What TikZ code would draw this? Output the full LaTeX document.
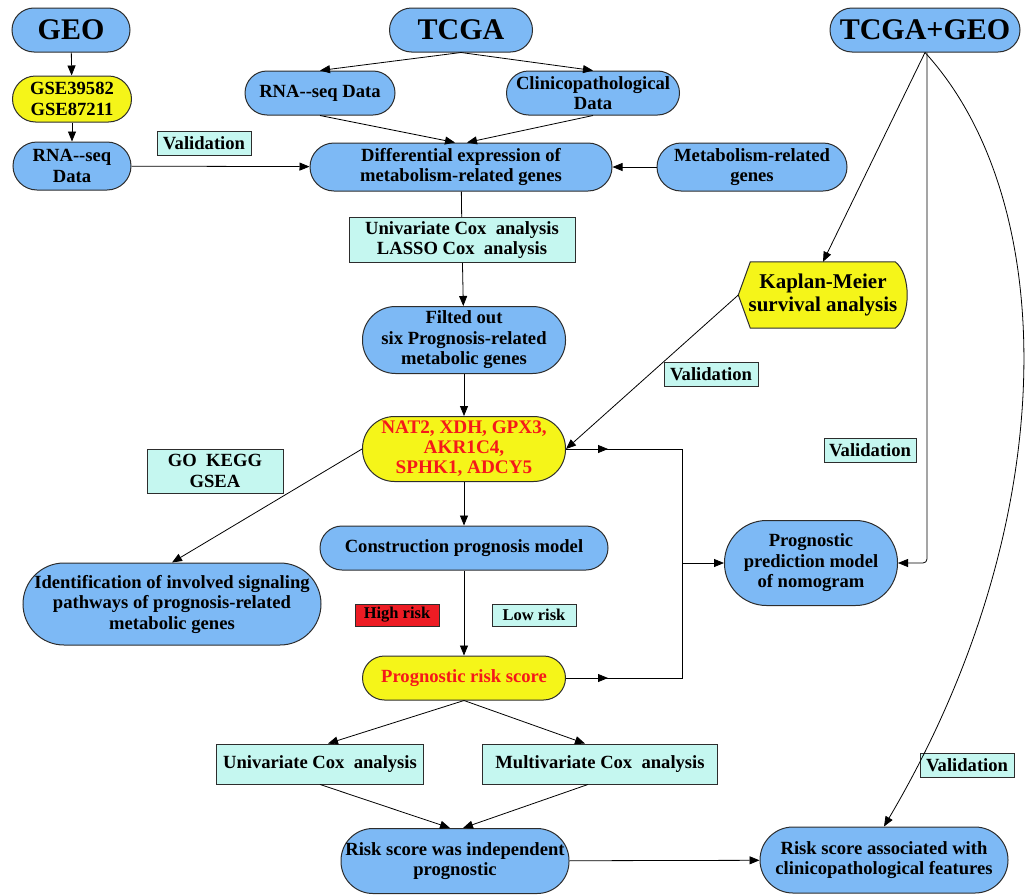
\documentclass[tikz,border=0pt]{standalone}
\usepackage{fontspec}
\setmainfont{Liberation Serif}
\usepackage{tikz}
\usetikzlibrary{arrows.meta, positioning, calc, backgrounds, decorations.markings}
\definecolor{pillblue}{RGB}{125,185,245}
\definecolor{hiyellow}{RGB}{245,245,25}
\definecolor{paleaqua}{RGB}{197,247,240}
\definecolor{riskred}{RGB}{237,28,36}
\definecolor{genered}{RGB}{245,25,25}
\definecolor{edgegray}{RGB}{45,45,45}

\begin{document}
\begin{tikzpicture}[x=1pt, y=-1pt,
  every node/.style={font=\fontsize{18.6}{20.5}\selectfont\bfseries, align=center, inner sep=0pt},
  pill/.style={draw=edgegray, line width=1pt, fill=pillblue, rounded corners=#1},
  pill/.default=22pt,
  gold/.style={pill=#1, fill=hiyellow},
  gold/.default=22pt,
  tag/.style={draw=edgegray, line width=0.9pt, fill=paleaqua, minimum height=24pt},
  small/.style={font=\fontsize{16.5}{18}\selectfont\bfseries},
  large/.style={font=\fontsize{21}{23}\selectfont\bfseries},
  big/.style={font=\fontsize{30}{32}\selectfont\bfseries},
  link/.style={line width=0.8pt},
  arr/.style={link, -{Triangle[length=10pt,width=8pt]}},
  midtip/.style={postaction={decorate}, decoration={markings,
    mark=at position #1 with {\arrow{Triangle[length=10pt,width=8pt]}}}}
]
  \useasboundingbox (0,0) rectangle (1032,894);

  % Data sources
  \node[pill, big, minimum width=118pt, minimum height=44pt] (geo) at (71,30) {GEO};
  \node[pill, big, minimum width=143pt, minimum height=44pt] (tcga) at (461,30) {TCGA};
  \node[pill, big, minimum width=190pt, minimum height=44pt] (both) at (925,30) {TCGA+GEO};

  % Upper row
  \node[gold=23pt, minimum width=119pt, minimum height=46pt] (gse) at (72,99) {GSE39582\\GSE87211};
  \node[pill=24pt, minimum width=118pt, minimum height=48pt] (rnageo) at (72,166) {RNA-{}-seq\\Data};
  \node[pill, minimum width=150pt, minimum height=44pt] (rnatcga) at (320,93) {RNA-{}-seq Data};
  \node[pill, minimum width=173pt, minimum height=44pt] (clin) at (593,93) {Clinicopathological\\Data};
  \node[pill=24pt, minimum width=302pt, minimum height=48pt] (diff) at (461,167) {Differential expression of\\metabolism-related genes};
  \node[pill=24pt, minimum width=190pt, minimum height=48pt] (metab) at (752,167) {Metabolism-related\\genes};
  \node[tag, minimum width=94pt] (val1) at (204,143) {Validation};

  % Gene selection
  \node[tag, minimum width=226pt, minimum height=45pt] (cox) at (462,240) {Univariate Cox\ \ analysis\\LASSO Cox\ \ analysis};
  \node[pill=33pt, minimum width=203pt, minimum height=67pt] (filt) at (464,340) {Filted out\\six Prognosis-related\\metabolic genes};
  \node[gold=32pt, minimum width=203pt, minimum height=65pt, text=genered, font=\fontsize{19.2}{20}\selectfont\bfseries] (genes) at (464,449) {NAT2, XDH, GPX3,\\AKR1C4,\\SPHK1, ADCY5};

  % Kaplan-Meier
  \node[large, minimum width=169pt, minimum height=66pt] (km) at (823,295) {Kaplan-Meier\\survival analysis};
  \begin{scope}[on background layer]
    \filldraw[draw=edgegray, line width=1pt, fill=hiyellow] (km.west) -- ([xshift=12pt]km.north west)
      -- ([xshift=-12.5pt]km.north east) .. controls ([xshift=3.5pt,yshift=-12pt]km.north east) and ([xshift=3.5pt,yshift=12pt]km.south east)
      .. ([xshift=-12.5pt]km.south east) -- ([xshift=12pt]km.south west) -- cycle;
  \end{scope}
  \node[tag, minimum width=94pt] (val2) at (711,374) {Validation};
  \node[tag, minimum width=92pt] (val3) at (870,450) {Validation};

  % Model
  \node[tag, minimum width=136pt, minimum height=44pt] (enrich) at (215,471) {GO\ \ KEGG\\GSEA};
  \node[pill, minimum width=288pt, minimum height=44pt] (model) at (464,548) {Construction prognosis model};
  \node[pill=41pt, minimum width=298pt, minimum height=82pt] (pathway) at (172,604) {Identification of involved signaling\\pathways of prognosis-related\\metabolic genes};
  \node[pill=42pt, minimum width=173pt, minimum height=85pt] (nomo) at (811,563) {Prognostic\\prediction model\\of nomogram};
  \node[tag, small, fill=riskred, minimum width=84pt, minimum height=22pt] (high) at (397,615) {High risk};
  \node[tag, small, minimum width=84pt, minimum height=22pt] (low) at (534,615) {Low risk};
  \node[gold, minimum width=203pt, minimum height=44pt, text=genered] (score) at (464,678) {Prognostic risk score};

  % Lower part
  \node[tag, minimum width=207pt, minimum height=40pt] (unicox) at (320,764) {Univariate Cox\ \ analysis};
  \node[tag, minimum width=235pt, minimum height=40pt] (multicox) at (600,764) {Multivariate Cox\ \ analysis};
  \node[tag, minimum width=94pt] (val4) at (967,765) {Validation};
  \node[pill=32pt, minimum width=228pt, minimum height=65pt] (indep) at (455,861) {Risk score was independent\\prognostic};
  \node[pill=33pt, minimum width=248pt, minimum height=66pt] (assoc) at (884,860) {Risk score associated with\\clinicopathological features};

  % Connectors
  \draw[arr] (geo) -- (gse);
  \draw[arr] (gse) -- (rnageo);
  \draw[arr] (rnageo) -- (diff);
  \draw[arr] (tcga.south) -- (rnatcga.north);
  \draw[arr] (tcga.south) -- (clin.north);
  \draw[arr] (rnatcga.south) -- ([xshift=-6pt]diff.north);
  \draw[arr] (clin.south) -- ([xshift=6pt]diff.north);
  \draw[arr] (metab) -- (diff);
  \draw[link] (diff) -- (cox);
  \draw[arr] (cox) -- (filt);
  \draw[arr] (filt) -- (genes);
  \draw[arr] (genes) -- (model);
  \draw[arr] (model) -- (score);
  \draw[arr] (genes.west) -- (pathway.north);

  \draw[arr] (both.south) -- (km.north);
  \draw[arr] (km.west) -- (genes.east);
  \draw[arr, rounded corners=4pt] ([xshift=2pt]both.south) |- (nomo.east);
  \draw[arr] (both.south) .. controls (1060,200) and (1065,520) .. (assoc.north);

  \coordinate (jmid) at (682,563);
  \draw[link, midtip=42pt] (genes.east) -| (jmid);
  \draw[link, midtip=42pt] (score.east) -| (jmid);
  \draw[arr] (jmid) -- (nomo.west);

  \draw[arr] (score.south) -- ([xshift=8pt]unicox.north);
  \draw[arr] (score.south) -- ([xshift=-15pt]multicox.north);
  \draw[arr] (unicox.south) -- ([xshift=-5pt]indep.north);
  \draw[arr] ([xshift=-12pt]multicox.south) -- ([xshift=8pt]indep.north);
  \draw[arr] (indep) -- (assoc);
\end{tikzpicture}
\end{document}
